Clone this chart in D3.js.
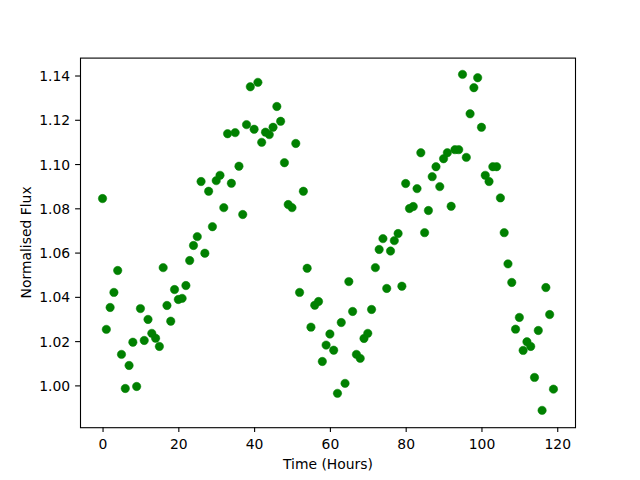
<!DOCTYPE html>
<html>
<head>
<meta charset="utf-8">
<script src="https://cdn.jsdelivr.net/npm/d3@7"></script>
<style>
    body { margin: 0; background: #ffffff; }
    #chart-area { width: 640px; height: 480px; }
    text { font-family: "DejaVu Sans", sans-serif; fill: #000000; }
</style>
</head>
<body>
<div id="chart-area"></div>
<script>

// time in hours (x) and normalised flux (y)
let hours = [
    0, 1, 2, 3, 4, 5, 6, 7, 8, 9, 10, 11, 12, 13, 14, 15, 16, 17, 18, 19,
    20, 21, 22, 23, 24, 25, 26, 27, 28, 29, 30, 31, 32, 33, 34, 35, 36, 37, 38, 39,
    40, 41, 42, 43, 44, 45, 46, 47, 48, 49, 50, 51, 52, 53, 54, 55, 56, 57, 58, 59,
    60, 61, 62, 63, 64, 65, 66, 67, 68, 69, 70, 71, 72, 73, 74, 75, 76, 77, 78, 79,
    80, 81, 82, 83, 84, 85, 86, 87, 88, 89, 90, 91, 92, 93, 94, 95, 96, 97, 98, 99,
    100, 101, 102, 103, 104, 105, 106, 107, 108, 109, 110, 111, 112, 113, 114, 115, 116, 117, 118, 119
];

let flux = [
    1.0844, 1.0253, 1.0352, 1.0420, 1.0519, 1.0140, 0.9986, 1.0090, 1.0195, 0.9995,
    1.0347, 1.0203, 1.0298, 1.0235, 1.0213, 1.0176, 1.0532, 1.0361, 1.0290, 1.0433,
    1.0388, 1.0393, 1.0451, 1.0564, 1.0632, 1.0672, 1.0921, 1.0597, 1.0877, 1.0717,
    1.0925, 1.0949, 1.0803, 1.1137, 1.0913, 1.1142, 1.0990, 1.0772, 1.1178, 1.1349,
    1.1157, 1.1369, 1.1098, 1.1144, 1.1133, 1.1166, 1.1260, 1.1193, 1.1006, 1.0817,
    1.0803, 1.1093, 1.0420, 1.0877, 1.0529, 1.0263, 1.0362, 1.0379, 1.0108, 1.0182,
    1.0232, 1.0159, 0.9964, 1.0284, 1.0009, 1.0469, 1.0334, 1.0140, 1.0122, 1.0212,
    1.0235, 1.0343, 1.0532, 1.0614, 1.0663, 1.0438, 1.0607, 1.0654, 1.0686, 1.0448,
    1.0912, 1.0799, 1.0808, 1.0889, 1.1051, 1.0690, 1.0790, 1.0943, 1.0988, 1.0898,
    1.1024, 1.1051, 1.0809, 1.1065, 1.1065, 1.1405, 1.1030, 1.1227, 1.1345, 1.1390,
    1.1166, 1.0949, 1.0921, 1.0988, 1.0988, 1.0847, 1.0690, 1.0549, 1.0465, 1.0254,
    1.0307, 1.0158, 1.0197, 1.0176, 1.0036, 1.0248, 0.9887, 1.0442, 1.0320, 0.9983
];

let xTicks = [0, 20, 40, 60, 80, 100, 120];
let yTicks = [1.00, 1.02, 1.04, 1.06, 1.08, 1.10, 1.12, 1.14];

let xLabel = 'Time (Hours)';
let yLabel = 'Normalised Flux';


class ScatterVis {

    constructor(parentElement) {
        this.parentElement = parentElement;
        this.color = '#008000';

        this.initVis()
    }

    initVis() {
        let vis = this;

        // same box as a default matplotlib figure
        vis.margin = {top: 57.6, right: 64, bottom: 52.8, left: 80};
        vis.width = 640 - vis.margin.left - vis.margin.right;
        vis.height = 480 - vis.margin.top - vis.margin.bottom;

        vis.svg = d3.select("#" + vis.parentElement).append("svg")
            .attr("width", 640)
            .attr("height", 480)
            .append("g")
            .attr('transform', `translate(${vis.margin.left}, ${vis.margin.top})`);

        vis.x = d3.scaleLinear().range([0, vis.width]);
        vis.y = d3.scaleLinear().range([vis.height, 0]);

        vis.xAxisGroup = vis.svg.append("g")
            .attr("class", "axis x-axis")
            .attr("transform", `translate(0, ${vis.height})`);

        vis.yAxisGroup = vis.svg.append("g")
            .attr("class", "axis y-axis");

        vis.dotGroup = vis.svg.append("g").attr("class", "dots");

        // frame
        vis.svg.append("rect")
            .attr("x", 0.5)
            .attr("y", 0.5)
            .attr("width", vis.width - 1)
            .attr("height", vis.height)
            .attr("fill", "none")
            .attr("stroke", "#000")
            .attr("stroke-width", 1.1);

        // axis labels
        vis.svg.append("text")
            .attr("x", vis.width / 2)
            .attr("y", 468.7 - vis.margin.top)
            .attr("text-anchor", "middle")
            .attr("font-size", 13.9)
            .text(xLabel);

        vis.svg.append("text")
            .attr("transform", `translate(${31 - vis.margin.left}, ${vis.height / 2}) rotate(-90)`)
            .attr("text-anchor", "middle")
            .attr("font-size", 13.9)
            .text(yLabel);

        vis.wrangleData()
    }

    wrangleData() {
        let vis = this;

        vis.displayData = hours.map((h, i) => ({hour: h, flux: flux[i]}));

        vis.updateVis()
    }

    updateVis() {
        let vis = this;

        // 5% padding on both ends like matplotlib autoscale
        let xExt = d3.extent(vis.displayData, d => d.hour);
        let yExt = d3.extent(vis.displayData, d => d.flux);
        let xPad = (xExt[1] - xExt[0]) * 0.05;
        let yPad = (yExt[1] - yExt[0]) * 0.05;
        vis.x.domain([xExt[0] - xPad, xExt[1] + xPad]);
        vis.y.domain([yExt[0] - yPad, yExt[1] + yPad]);

        vis.xAxisGroup.call(
            d3.axisBottom(vis.x)
                .tickValues(xTicks)
                .tickFormat(d3.format("d"))
                .tickSize(4.9)
                .tickPadding(4.9)
        );

        vis.yAxisGroup.call(
            d3.axisLeft(vis.y)
                .tickValues(yTicks)
                .tickFormat(d3.format(".2f"))
                .tickSize(4.9)
                .tickPadding(4.9)
        );

        vis.svg.selectAll(".axis .domain").remove();
        vis.svg.selectAll(".axis line").attr("stroke", "#000").attr("stroke-width", 1.1);
        vis.svg.selectAll(".axis text")
            .attr("font-family", '"DejaVu Sans", sans-serif')
            .attr("font-size", 13.9)
            .attr("fill", "#000");
        vis.xAxisGroup.selectAll("text").attr("dy", null).attr("y", 21.5);
        vis.yAxisGroup.selectAll("text").attr("dy", "0.36em");

        vis.xAxisGroup.attr("font-size", null).attr("font-family", null);
        vis.yAxisGroup.attr("font-size", null).attr("font-family", null);

        let dots = vis.dotGroup.selectAll(".dot").data(vis.displayData);

        dots.exit().remove()
        dots.enter().append("circle")
            .attr("class", "dot")
            .merge(dots)
            .attr("cx", d => vis.x(d.hour))
            .attr("cy", d => vis.y(d.flux))
            .attr("r", 4.2)
            .attr("fill", vis.color)
            .attr("stroke", vis.color)
            .attr("stroke-width", 0.5)
    }
}

new ScatterVis("chart-area");

</script>
</body>
</html>
